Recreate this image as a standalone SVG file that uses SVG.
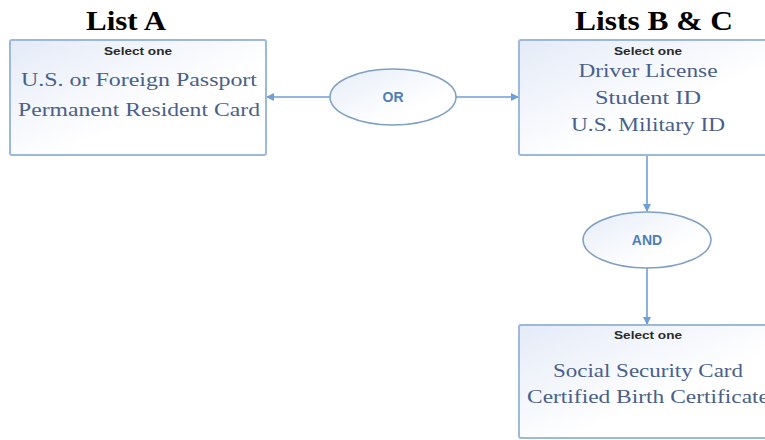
<svg xmlns="http://www.w3.org/2000/svg" width="765" height="440" viewBox="0 0 765 440">
<style>
.box{fill:url(#bg);stroke:#9cb9dc;stroke-width:2}
.ell{fill:url(#eg);stroke:#7f9fc4;stroke-width:1.5}
.title{font-family:"Liberation Serif",serif;font-weight:bold;font-size:28px;fill:#000;text-anchor:middle}
.sel{font-family:"Liberation Sans",sans-serif;font-weight:bold;font-size:11px;fill:#2a2a2a;text-anchor:middle}
.item{font-family:"Liberation Serif",serif;font-size:19px;fill:#4a5f8c;text-anchor:middle}
.op{font-family:"Liberation Sans",sans-serif;font-weight:bold;font-size:14px;fill:#4f7fb8;text-anchor:middle}
.con{stroke:#6f9fd6;stroke-width:1.6;fill:none;marker-end:url(#ah)}
</style>
<defs>
<linearGradient id="bg" x1="0" y1="0" x2="1" y2="1">
<stop offset="0" stop-color="#e4ebf7"/><stop offset="0.6" stop-color="#ffffff"/></linearGradient>
<linearGradient id="eg" x1="0" y1="0" x2="1" y2="1">
<stop offset="0" stop-color="#e6edf8"/><stop offset="0.7" stop-color="#ffffff"/></linearGradient>
<marker id="ah" markerWidth="8" markerHeight="8" refX="7" refY="4" orient="auto" markerUnits="userSpaceOnUse">
<path d="M0,0 L8,4 L0,8 Z" fill="#6f9fd6"/></marker>
</defs>
<rect width="765" height="440" fill="#fff"/>
<text class="title" x="126" y="30" textLength="80" lengthAdjust="spacingAndGlyphs">List A</text>
<text class="title" x="654" y="30" textLength="158" lengthAdjust="spacingAndGlyphs">Lists B &amp; C</text>
<g id="connectors">
<line class="con" x1="330" y1="97" x2="267" y2="97"/>
<line class="con" x1="456" y1="97" x2="518" y2="97"/>
<line class="con" x1="647" y1="156" x2="647" y2="211"/>
<line class="con" x1="647" y1="268" x2="647" y2="324"/>
</g>
<g id="listA">
<rect class="box" x="10" y="40" width="256" height="115" rx="2"/>
<text class="sel" x="138" y="55" textLength="68" lengthAdjust="spacingAndGlyphs">Select one</text>
<text class="item" x="139" y="86" textLength="236" lengthAdjust="spacingAndGlyphs">U.S. or Foreign Passport</text>
<text class="item" x="139" y="116" textLength="242" lengthAdjust="spacingAndGlyphs">Permanent Resident Card</text>
</g>
<g id="or">
<ellipse class="ell" cx="393" cy="97" rx="63" ry="28"/>
<text class="op" x="393" y="102">OR</text>
</g>
<g id="listB">
<rect class="box" x="519" y="40" width="260" height="115" rx="2"/>
<text class="sel" x="648" y="55" textLength="68" lengthAdjust="spacingAndGlyphs">Select one</text>
<text class="item" x="648" y="77" textLength="139" lengthAdjust="spacingAndGlyphs">Driver License</text>
<text class="item" x="648" y="104" textLength="106" lengthAdjust="spacingAndGlyphs">Student ID</text>
<text class="item" x="648" y="131" textLength="154" lengthAdjust="spacingAndGlyphs">U.S. Military ID</text>
</g>
<g id="and">
<ellipse class="ell" cx="647" cy="240" rx="64" ry="28"/>
<text class="op" x="647" y="245">AND</text>
</g>
<g id="listC">
<rect class="box" x="519" y="325" width="260" height="113" rx="2"/>
<text class="sel" x="648" y="339" textLength="68" lengthAdjust="spacingAndGlyphs">Select one</text>
<text class="item" x="648" y="377" textLength="190" lengthAdjust="spacingAndGlyphs">Social Security Card</text>
<text class="item" x="648" y="403" textLength="242" lengthAdjust="spacingAndGlyphs">Certified Birth Certificate</text>
</g>
</svg>
